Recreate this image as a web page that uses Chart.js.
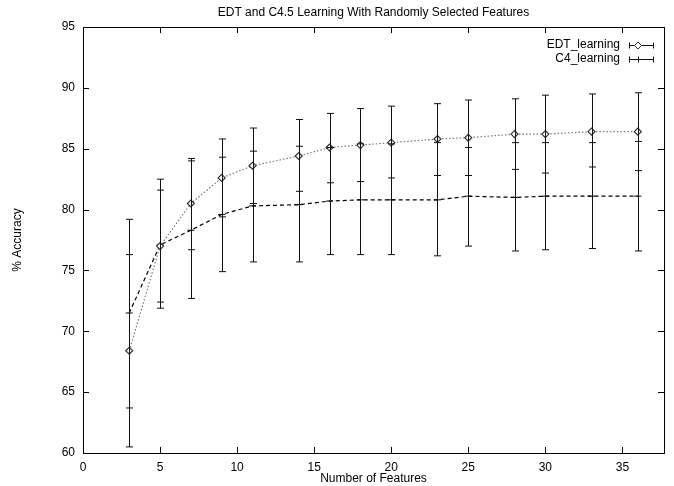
<!DOCTYPE html>
<html lang="en">
<head>
  <meta charset="UTF-8" />
  <title>EDT and C4.5 Learning</title>
  <script src="https://cdn.jsdelivr.net/npm/chart.js"></script>
  <style>
    html, body { margin: 0; padding: 0; background: #fff; }
    #wrap { width: 674px; height: 486px; }
  </style>
</head>
<body>
<div id="wrap"><canvas id="chartCanvas" width="674" height="486"></canvas></div>

<script>
  const features = [3, 5, 7, 9, 11, 14, 16, 18, 20, 23, 25, 28, 30, 33, 36];

  const edtMean = [68.4, 77.0, 80.5, 82.6, 83.6, 84.4, 85.1, 85.3, 85.5, 85.8, 85.9, 86.2, 86.2, 86.4, 86.4];
  const edtLow  = [60.5, 72.4, 76.7, 79.4, 80.5, 81.5, 82.2, 82.3, 82.6, 82.8, 82.8, 83.3, 83.0, 83.5, 83.2];
  const edtHigh = [76.3, 81.6, 84.2, 85.8, 86.7, 87.4, 87.9, 88.3, 88.5, 88.7, 89.0, 89.1, 89.4, 89.5, 89.6];

  const c4Mean = [71.5, 77.1, 78.3, 79.6, 80.3, 80.4, 80.7, 80.8, 80.8, 80.8, 81.1, 81.0, 81.1, 81.1, 81.1];
  const c4Low  = [63.7, 71.9, 72.7, 74.9, 75.7, 75.7, 76.3, 76.3, 76.3, 76.2, 77.0, 76.6, 76.7, 76.8, 76.6];
  const c4High = [79.2, 82.5, 84.0, 84.3, 84.8, 85.2, 85.1, 85.4, 85.4, 85.5, 85.1, 85.5, 85.5, 85.5, 85.6];

  const xTicks = [0, 5, 10, 15, 20, 25, 30, 35];
  const yTicks = [60, 65, 70, 75, 80, 85, 90, 95];

  const FONT = '12px "Liberation Sans", Arial, sans-serif';

  // gnuplot-ish frame, inward ticks, titles, error bars and key
  const gnuplotLook = {
    id: 'gnuplotLook',
    afterDatasetsDraw(chart) {
      const ctx = chart.ctx;
      const xs = chart.scales.x, ys = chart.scales.y;
      ctx.save();
      ctx.strokeStyle = '#111';
      ctx.lineWidth = 1;
      chart.data.datasets.forEach((ds, i) => {
        const meta = chart.getDatasetMeta(i);
        meta.data.forEach((pt, j) => {
          const x = Math.round(pt.x) + 0.5;
          const yl = ys.getPixelForValue(ds.errLow[j]);
          const yh = ys.getPixelForValue(ds.errHigh[j]);
          ctx.beginPath();
          ctx.moveTo(x, yl); ctx.lineTo(x, yh);
          ctx.moveTo(x - 3.5, yl); ctx.lineTo(x + 3.5, yl);
          ctx.moveTo(x - 3.5, yh); ctx.lineTo(x + 3.5, yh);
          ctx.stroke();
        });
      });
      ctx.restore();
    },
    afterDraw(chart) {
      const ctx = chart.ctx;
      const a = chart.chartArea;
      const xs = chart.scales.x, ys = chart.scales.y;
      ctx.save();
      ctx.strokeStyle = '#000';
      ctx.lineWidth = 1;
      // frame
      ctx.strokeRect(Math.round(a.left) + 0.5, Math.round(a.top) + 0.5,
        Math.round(a.right - a.left), Math.round(a.bottom - a.top));
      // inward ticks, mirrored
      ctx.beginPath();
      xTicks.forEach(v => {
        const x = Math.round(xs.getPixelForValue(v)) + 0.5;
        ctx.moveTo(x, a.bottom); ctx.lineTo(x, a.bottom - 6);
        ctx.moveTo(x, a.top); ctx.lineTo(x, a.top + 6);
      });
      yTicks.forEach(v => {
        const y = Math.round(ys.getPixelForValue(v)) + 0.5;
        ctx.moveTo(a.left, y); ctx.lineTo(a.left + 6, y);
        ctx.moveTo(a.right, y); ctx.lineTo(a.right - 6, y);
      });
      ctx.stroke();

      // titles
      ctx.fillStyle = '#000';
      ctx.font = FONT;
      ctx.textAlign = 'center';
      ctx.textBaseline = 'middle';
      const cx = (a.left + a.right) / 2;
      ctx.fillText('EDT and C4.5 Learning With Randomly Selected Features', cx, 13);
      ctx.fillText('Number of Features', cx, 479);
      ctx.save();
      ctx.translate(18, (a.top + a.bottom) / 2);
      ctx.rotate(-Math.PI / 2);
      ctx.fillText('% Accuracy', 0, 0);
      ctx.restore();

      // key
      const rows = [45, 59];
      chart.data.datasets.forEach((ds, i) => {
        const y = rows[i] + 0.5;
        ctx.textAlign = 'right';
        ctx.fillText(ds.label, 620, rows[i]);
        ctx.strokeStyle = '#111';
        ctx.beginPath();
        ctx.moveTo(629, y); ctx.lineTo(654, y);
        ctx.moveTo(629.5, y - 3); ctx.lineTo(629.5, y + 3);
        ctx.moveTo(653.5, y - 3); ctx.lineTo(653.5, y + 3);
        ctx.stroke();
        if (ds.pointStyle === 'rectRot') {
          ctx.fillStyle = '#fff';
          ctx.strokeStyle = '#333';
          ctx.beginPath();
          ctx.moveTo(638, y - 3.5); ctx.lineTo(641.5, y);
          ctx.lineTo(638, y + 3.5); ctx.lineTo(634.5, y);
          ctx.closePath();
          ctx.fill(); ctx.stroke();
          ctx.fillStyle = '#000';
        } else {
          ctx.beginPath();
          ctx.moveTo(638.5, y - 3); ctx.lineTo(638.5, y + 3);
          ctx.stroke();
        }
      });
      ctx.restore();
    }
  };

  new Chart(document.getElementById('chartCanvas'), {
    type: 'line',
    data: {
      datasets: [
        {
          label: 'EDT_learning',
          data: features.map((f, i) => ({ x: f, y: edtMean[i] })),
          errLow: edtLow,
          errHigh: edtHigh,
          borderColor: '#777',
          borderWidth: 1.2,
          borderDash: [1.5, 2],
          pointStyle: 'rectRot',
          pointRadius: 3.5,
          pointBackgroundColor: '#fff',
          pointBorderColor: '#333',
          pointBorderWidth: 1.2,
          tension: 0
        },
        {
          label: 'C4_learning',
          data: features.map((f, i) => ({ x: f, y: c4Mean[i] })),
          errLow: c4Low,
          errHigh: c4High,
          borderColor: '#000',
          borderWidth: 1.2,
          borderDash: [4, 3],
          pointStyle: 'line',
          pointRadius: 3.5,
          pointBorderColor: '#000',
          pointBorderWidth: 1,
          tension: 0
        }
      ]
    },
    options: {
      responsive: false,
      animation: false,
      layout: { padding: { left: 0, top: 27, right: 10, bottom: 0 } },
      scales: {
        x: {
          type: 'linear',
          min: 0,
          max: 37.7,
          afterBuildTicks: s => { s.ticks = xTicks.map(v => ({ value: v })); },
          afterFit: s => { s.height = 33; },
          grid: { display: false, drawTicks: false },
          border: { display: false },
          ticks: { color: '#000', font: { family: '"Liberation Sans", Arial', size: 12 }, padding: 7, maxRotation: 0 }
        },
        y: {
          min: 60,
          max: 95,
          afterBuildTicks: s => { s.ticks = yTicks.map(v => ({ value: v })); },
          afterFit: s => { s.width = 83; },
          grid: { display: false, drawTicks: false },
          border: { display: false },
          ticks: { color: '#000', font: { family: '"Liberation Sans", Arial', size: 12 }, padding: 8 }
        }
      },
      plugins: {
        legend: { display: false },
        tooltip: { enabled: false }
      }
    },
    plugins: [gnuplotLook]
  });
</script>
</body>
</html>
